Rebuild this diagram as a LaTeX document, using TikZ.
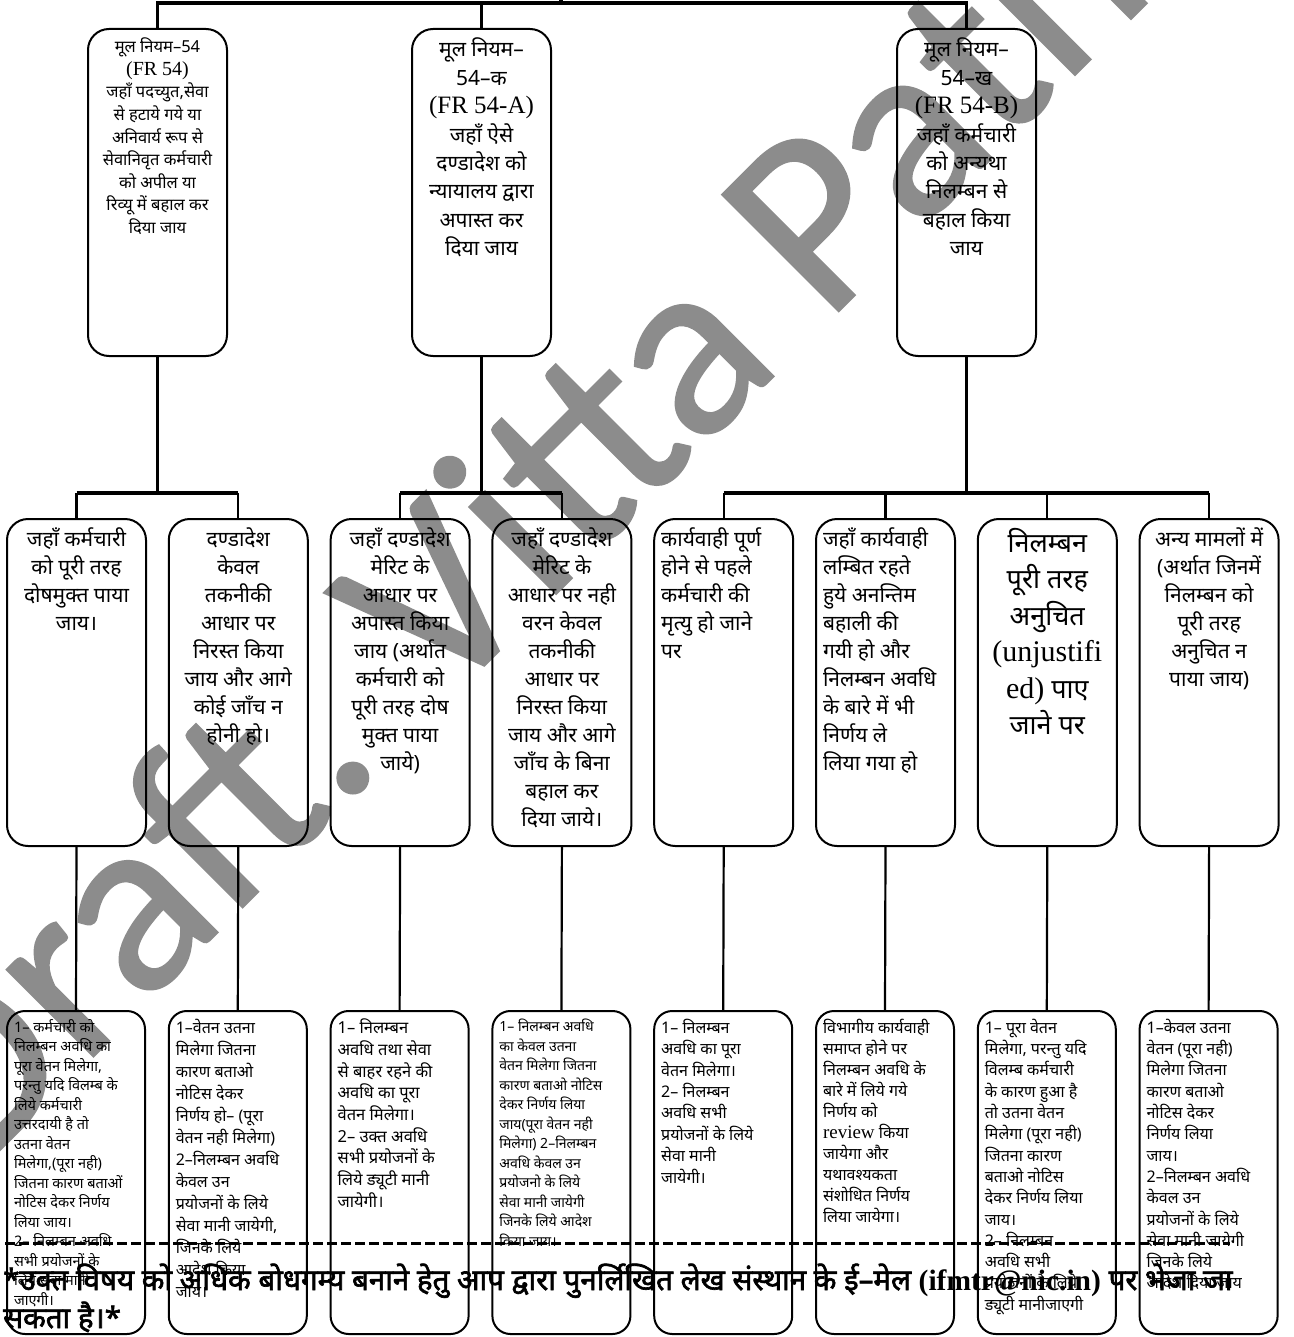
\documentclass[tikz,border=0pt]{standalone}
\usepackage{fontspec}
\usetikzlibrary{calc}
\newfontfamily\hin[Script=Devanagari]{Noto Sans}
\newfontfamily\hinb[Script=Devanagari,FakeBold=2.2]{Noto Sans}
\newfontfamily\ser{Liberation Serif}
\newfontfamily\wmf[FakeBold=0.8]{Carlito}
\newcommand{\fsz}[2]{\fontsize{#1}{#2}\selectfont}
\newcommand{\bxin}[3]{\parbox[t][#1][t]{#2}{#3}}
\definecolor{wmgray}{RGB}{140,140,140}
\tikzset{
  box/.style={draw, line width=2pt, rounded corners=21pt, inner xsep=5pt, inner ysep=9pt, anchor=north west, font=\hin},
  lowbox/.style={draw, line width=2pt, rounded corners=18pt, inner xsep=7pt, inner ysep=8pt, anchor=north west, font=\hin},
  conn/.style={line width=2.2pt},
  bar/.style={line width=3.2pt},
  wmark/.style={text=wmgray, font=\wmf\fsz{257}{257}, inner sep=0pt},
}
\begin{document}
\begin{tikzpicture}[x=1pt,y=-1pt]
\useasboundingbox (0,0) rectangle (1293,1337);
% watermark
\node[wmark, rotate=45, anchor=base west] (wm) at (-30,1180) {Draft. Vitta Path 2};

% top boxes
\node[box] (T1) at (87,28) {\bxin{309pt}{129pt}{\centering\fsz{16.5}{22.6}मूल नियम–54\\{\ser\fsz{20}{22.6}(FR 54)}\\जहाँ पदच्युत,सेवा\\से हटाये गये या\\अनिवार्य रूप से\\सेवानिवृत कर्मचारी\\को अपील या\\रिव्यू में बहाल कर\\दिया जाय\par}};
\node[box] (T2) at (411,28) {\bxin{309pt}{129pt}{\centering\fsz{21}{28.4}मूल नियम–\\54–क\\{\ser\fsz{25}{28.4}(FR 54-A)}\\जहाँ ऐसे\\दण्डादेश को\\न्यायालय द्वारा\\अपास्त कर\\दिया जाय\par}};
\node[box] (T3) at (896,28) {\bxin{309pt}{129pt}{\centering\fsz{21}{28.4}मूल नियम–\\54–ख\\{\ser\fsz{25}{28.4}(FR 54-B)}\\जहाँ कर्मचारी\\को अन्यथा\\निलम्बन से\\बहाल किया\\जाय\par}};

% middle boxes
\node[box] (M1) at (6,518) {\bxin{309pt}{129pt}{\centering\fsz{21}{28}जहाँ कर्मचारी\\को पूरी तरह\\दोषमुक्त पाया\\जाय।\par}};
\node[box] (M2) at (167.8,518) {\bxin{309pt}{129pt}{\centering\fsz{21}{28}दण्डादेश\\केवल\\तकनीकी\\आधार पर\\निरस्त किया\\जाय और आगे\\कोई जाँच न\\होनी हो।\par}};
\node[box] (M3) at (329.6,518) {\bxin{309pt}{129pt}{\centering\fsz{21}{28}जहाँ दण्डादेश\\मेरिट के\\आधार पर\\अपास्त किया\\जाय (अर्थात\\कर्मचारी को\\पूरी तरह दोष\\मुक्त पाया\\जाये)\par}};
\node[box] (M4) at (491.4,518) {\bxin{309pt}{129pt}{\centering\fsz{21}{28}जहाँ दण्डादेश\\मेरिट के\\आधार पर नही\\वरन केवल\\तकनीकी\\आधार पर\\निरस्त किया\\जाय और आगे\\जाँच के बिना\\बहाल कर\\दिया जाये।\par}};
\node[box, inner xsep=7pt] (M5) at (653.2,518) {\bxin{309pt}{125pt}{\raggedright\fsz{21}{28}कार्यवाही पूर्ण\\होने से पहले\\कर्मचारी की\\मृत्यु हो जाने\\पर\par}};
\node[box, inner xsep=7pt] (M6) at (815,518) {\bxin{309pt}{125pt}{\raggedright\fsz{21}{28}जहाँ कार्यवाही\\लम्बित रहते\\हुये अनन्तिम\\बहाली की\\गयी हो और\\निलम्बन अवधि\\के बारे में भी\\निर्णय ले\\लिया गया हो\par}};
\node[box] (M7) at (976.8,518) {\bxin{309pt}{129pt}{\centering\fsz{27}{36.5}निलम्बन\\पूरी तरह\\अनुचित\\{\ser\fsz{30}{36.5}(unjustifi}\\{\ser\fsz{30}{36.5}ed)} पाए\\जाने पर\par}};
\node[box] (M8) at (1138.6,518) {\bxin{309pt}{129pt}{\centering\fsz{21}{28}अन्य मामलों में\\(अर्थात जिनमें\\निलम्बन को\\पूरी तरह\\अनुचित न\\पाया जाय)\par}};

% bottom boxes
\node[lowbox] (B1) at (6,1010) {\bxin{307pt}{124pt}{\raggedright\fsz{14.5}{19.5}1– कर्मचारी को\\निलम्बन अवधि का\\पूरा वेतन मिलेगा,\\परन्तु यदि विलम्ब के\\लिये कर्मचारी\\उत्तरदायी है तो\\उतना वेतन\\मिलेगा,(पूरा नही)\\जितना कारण बताओं\\नोटिस देकर निर्णय\\लिया जाय।\\2– निलम्बन अवधि\\सभी प्रयोजनों के\\लिये सेवा मानी\\जाएगी।\par}};
\node[lowbox] (B2) at (167.8,1010) {\bxin{307pt}{124pt}{\raggedright\fsz{16}{22}1–वेतन उतना\\मिलेगा जितना\\कारण बताओ\\नोटिस देकर\\निर्णय हो– (पूरा\\वेतन नही मिलेगा)\\2–निलम्बन अवधि\\केवल उन\\प्रयोजनों के लिये\\सेवा मानी जायेगी,\\जिनके लिये\\आदेश किया\\जाय।\par}};
\node[lowbox] (B3) at (329.6,1010) {\bxin{307pt}{124pt}{\raggedright\fsz{16.5}{21.7}1– निलम्बन\\अवधि तथा सेवा\\से बाहर रहने की\\अवधि का पूरा\\वेतन मिलेगा।\\2– उक्त अवधि\\सभी प्रयोजनों के\\लिये ड्यूटी मानी\\जायेगी।\par}};
\node[lowbox] (B4) at (491.4,1010) {\bxin{307pt}{124pt}{\raggedright\fsz{14}{19.5}1– निलम्बन अवधि\\का केवल उतना\\वेतन मिलेगा जितना\\कारण बताओ नोटिस\\देकर निर्णय लिया\\जाय(पूरा वेतन नही\\मिलेगा) 2–निलम्बन\\अवधि केवल उन\\प्रयोजनो के लिये\\सेवा मानी जायेगी\\जिनके लिये आदेश\\किया जाय।\par}};
\node[lowbox] (B5) at (653.2,1010) {\bxin{307pt}{124pt}{\raggedright\fsz{16}{21.4}1– निलम्बन\\अवधि का पूरा\\वेतन मिलेगा।\\2– निलम्बन\\अवधि सभी\\प्रयोजनों के लिये\\सेवा मानी\\जायेगी।\par}};
\node[lowbox] (B6) at (815,1010) {\bxin{307pt}{124pt}{\raggedright\fsz{16}{21}विभागीय कार्यवाही\\समाप्त होने पर\\निलम्बन अवधि के\\बारे में लिये गये\\निर्णय को\\{\ser\fsz{19}{21}review} किया\\जायेगा और\\यथावश्यकता\\संशोधित निर्णय\\लिया जायेगा।\par}};
\node[lowbox] (B7) at (976.8,1010) {\bxin{307pt}{124pt}{\raggedright\fsz{16}{21.3}1– पूरा वेतन\\मिलेगा, परन्तु यदि\\विलम्ब कर्मचारी\\के कारण हुआ है\\तो उतना वेतन\\मिलेगा (पूरा नही)\\जितना कारण\\बताओ नोटिस\\देकर निर्णय लिया\\जाय।\\2– निलम्बन\\अवधि सभी\\प्रयोजनों के लिये\\ड्यूटी मानीजाएगी\par}};
\node[lowbox] (B8) at (1138.6,1010) {\bxin{307pt}{124pt}{\raggedright\fsz{16}{21.3}1–केवल उतना\\वेतन (पूरा नही)\\मिलेगा जितना\\कारण बताओ\\नोटिस देकर\\निर्णय लिया\\जाय।\\2–निलम्बन अवधि\\केवल उन\\प्रयोजनों के लिये\\सेवा मानी जायेगी\\जिनके लिये\\आदेश दिया जाय\par}};

% connectors
\coordinate (par) at (561,0);
\coordinate (hub) at (561,3);
\coordinate (j1) at (0,493);
\draw[bar] (par) -- (hub);
\draw[bar] (hub) -| (T1.north);
\draw[bar] (hub) -| (T2.north);
\draw[bar] (hub) -| (T3.north);
\foreach \t/\a/\b in {T1/M1/M2, T2/M3/M4, T3/M5/M8} {
  \draw[conn] (\t.south) -- (\t.south |- j1);
  \draw[bar] (\a.north |- j1) -- (\b.north |- j1);
}
\foreach \m in {M1,M2,M3,M4,M5,M6,M7,M8} {
  \draw[conn] (\m.north |- j1) -- (\m.north);
}
\foreach \i in {1,...,8} {
  \draw[conn] (M\i.south) -- (B\i.north);
}

% footer
\coordinate (d1) at (5,1243);
\coordinate (d2) at (1230,1243);
\draw[line width=3pt, dash pattern=on 10pt off 4pt] (d1) -- (d2);
\node[anchor=base west, inner sep=0pt, font=\hinb\fsz{29.5}{38}] (f1) at (3,1290) {*उक्त विषय को अधिक बोधगम्य बनाने हेतु आप द्वारा पुनर्लिखित लेख संस्थान के ई–मेल {\ser\bfseries (ifmtr@nic.in)} पर भेजा जा};
\node[anchor=base west, inner sep=0pt, font=\hinb\fsz{29.5}{38}] (f2) at (3,1328) {सकता है।*};
\end{tikzpicture}
\end{document}
